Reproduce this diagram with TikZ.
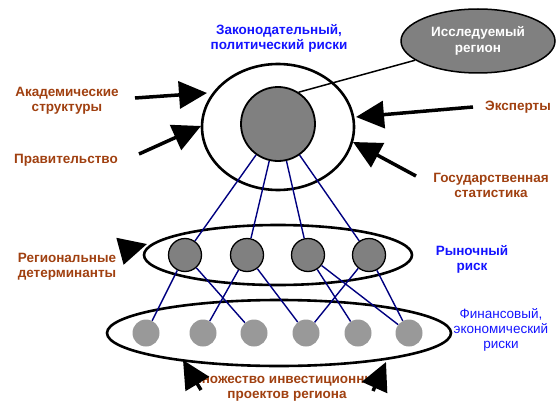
\documentclass[tikz,border=0pt]{standalone}
\usepackage{fontspec}
\setmainfont{Liberation Sans}
\usetikzlibrary{shapes.geometric,arrows.meta}
\definecolor{brn}{RGB}{160,64,16}
\definecolor{blu}{RGB}{20,20,255}
\definecolor{dgray}{RGB}{128,128,128}
\definecolor{lgray}{RGB}{153,153,153}
\definecolor{navy}{RGB}{0,0,128}
\tikzset{
  lbl/.style={font=\fontsize{13.5}{15}\selectfont\bfseries, align=center, inner sep=0pt},
  brlbl/.style={lbl, text=brn},
  bllbl/.style={lbl, text=blu},
  ring/.style={draw, ellipse, line width=2.6pt, inner sep=0pt},
  dball/.style={draw, circle, fill=dgray, line width=1.3pt, minimum size=33pt, inner sep=0pt},
  lball/.style={circle, fill=lgray, minimum size=27pt, inner sep=0pt},
  link/.style={draw=navy, line width=1.4pt},
  bigarrow/.style={line width=3.5pt, -{Triangle[length=28pt,width=27pt]}},
}
\begin{document}
\begin{tikzpicture}[x=1pt,y=-1pt]
\useasboundingbox (0,0) rectangle (556,401);
% ellipses
\node[ring, minimum width=152pt, minimum height=126pt] (bigE) at (278,127) {};
\node[draw, circle, fill=dgray, line width=1.8pt, minimum size=74pt, inner sep=0pt] (inner) at (278,124) {};
\node[draw, ellipse, fill=dgray, line width=1.5pt, minimum width=154pt, minimum height=64pt, inner sep=0pt,
      align=center, text=white, font=\fontsize{13.5}{16}\selectfont\bfseries] (region) at (478,41) {Исследуемый\\регион};
\draw[line width=1.5pt] (inner.57) -- (region.197);
\node[ring, minimum width=268pt, minimum height=60pt] (midE) at (278,255) {};
\node[ring, minimum width=344pt, minimum height=66pt] (lowE) at (279,333) {};
% balls
\node[dball] (d1) at (185,255) {};
\node[dball] (d2) at (247,255) {};
\node[dball] (d3) at (308,255) {};
\node[dball] (d4) at (369,255) {};
\node[lball] (l1) at (146,333) {};
\node[lball] (l2) at (203,333) {};
\node[lball] (l3) at (254,333) {};
\node[lball] (l4) at (306,333) {};
\node[lball] (l5) at (358,333) {};
\node[lball] (l6) at (409,333) {};
% links
\foreach \d in {d1,d2,d3,d4} \draw[link] (inner) -- (\d);
\draw[link] (d1) -- (l1);
\draw[link] (d1) -- (l3);
\draw[link] (d2) -- (l2);
\draw[link] (d2) -- (l4);
\draw[link] (d3) -- (l5);
\draw[link] (d3) -- (l6);
\draw[link] (d4) -- (l4);
\draw[link] (d4) -- (l6);
% labels
\node[bllbl] (zak) at (279,38) {Законодательный,\\политический риски};
\node[brlbl] (acad) at (67,101) {Академические\\структуры};
\node[brlbl] (gov) at (66,160) {Правительство};
\node[brlbl] (exp) at (518,107) {Эксперты};
\node[brlbl] (stat) at (491,185) {Государственная\\статистика};
\node[brlbl] (regd) at (67,267) {Региональные\\детерминанты};
\node[bllbl] (mkt) at (472,259) {Рыночный\\риск};
\node[lbl, text=blu, font=\fontsize{13.5}{15}\selectfont] (fin) at (501,330) {Финансовый,\\экономический\\риски};
\node[brlbl] (mnoz) at (287,388) {Множество инвестиционных\\проектов региона};
% arrows
\coordinate (acadT) at (135,98);  \coordinate (acadH) at (207,93);
\coordinate (govT) at (139,154);  \coordinate (govH) at (201,126);
\coordinate (expT) at (473,107);  \coordinate (expH) at (356,117);
\coordinate (statT) at (416,176); \coordinate (statH) at (353,142);
\coordinate (regT) at (121,251);  \coordinate (regH) at (147,244);
\coordinate (mlT) at (201,390);   \coordinate (mlH) at (183,360);
\coordinate (mrT) at (373,391);   \coordinate (mrH) at (386,362);
\draw[bigarrow] (acadT) -- (acadH);
\draw[bigarrow] (govT) -- (govH);
\draw[bigarrow] (expT) -- (expH);
\draw[bigarrow] (statT) -- (statH);
\draw[bigarrow] (regT) -- (regH);
\draw[bigarrow] (mlT) -- (mlH);
\draw[bigarrow] (mrT) -- (mrH);
\end{tikzpicture}
\end{document}
